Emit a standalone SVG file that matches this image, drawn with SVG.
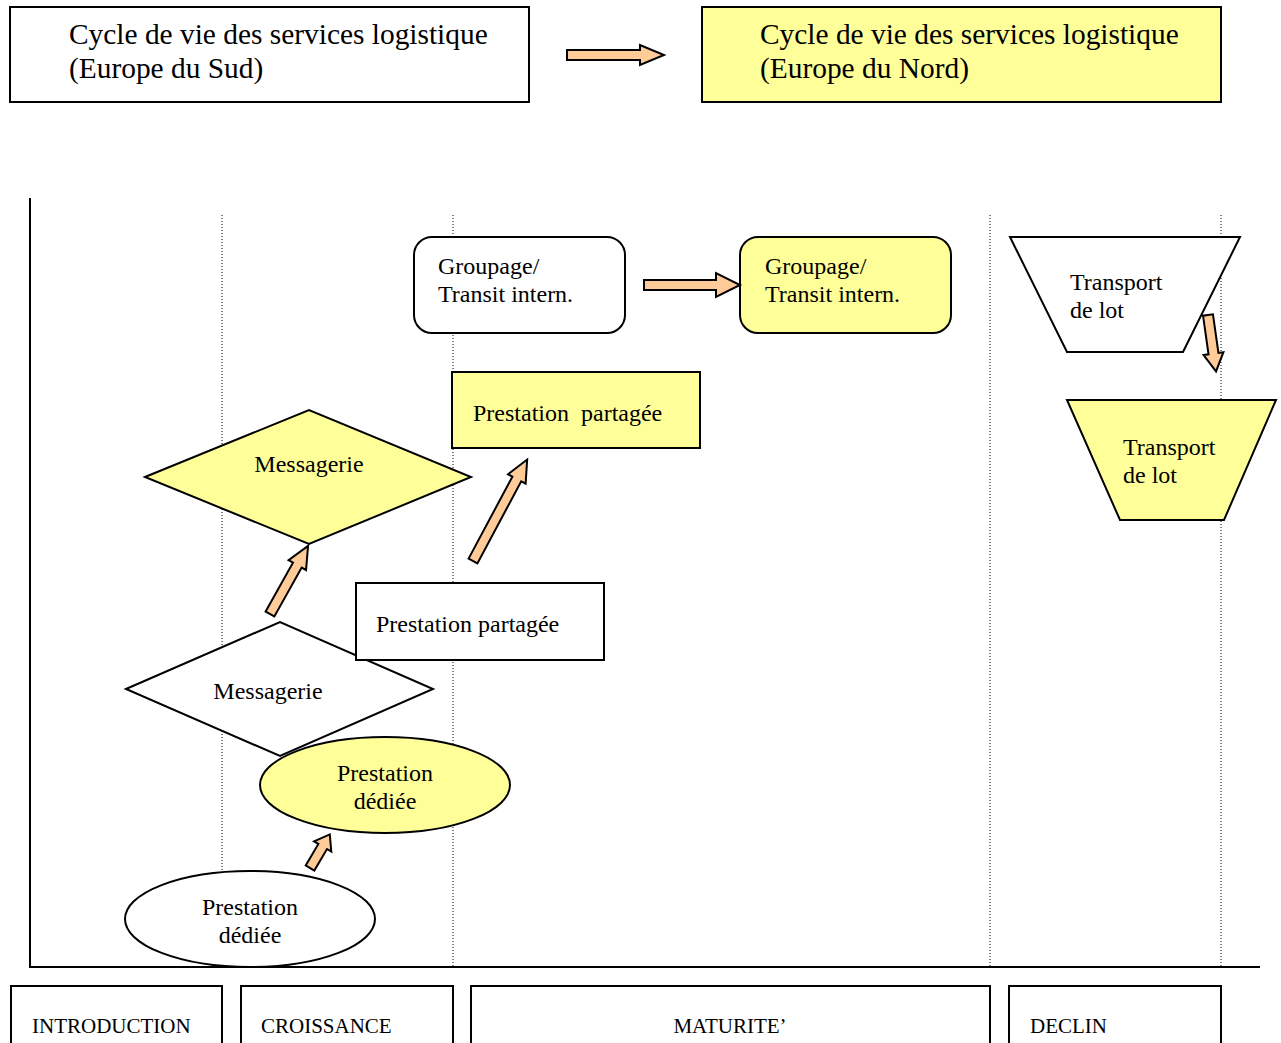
<svg xmlns="http://www.w3.org/2000/svg" width="1281" height="1043" viewBox="0 0 1281 1043">
<style>
text{font-family:"Liberation Serif","Times New Roman",serif;fill:#000}
.n{stroke:#000;stroke-width:2}
.w{fill:#fff}
.y{fill:#ffff99}
.t{font-size:29.4px}
.s{font-size:24px}
.p{font-size:21px}
.dot{stroke:#000;stroke-width:1;stroke-dasharray:1 2;fill:none}
.ar{fill:#ffcc99;stroke:#000;stroke-width:2;stroke-linejoin:miter}
</style>
<rect width="1281" height="1043" fill="#fff"/>
<g id="grid">
<line class="dot" x1="222" y1="215" x2="222" y2="967"/>
<line class="dot" x1="453" y1="215" x2="453" y2="967"/>
<line class="dot" x1="990" y1="215" x2="990" y2="967"/>
<line class="dot" x1="1221" y1="215" x2="1221" y2="967"/>
<line x1="30" y1="198" x2="30" y2="968" stroke="#000" stroke-width="2"/>
<line x1="29" y1="967" x2="1260" y2="967" stroke="#000" stroke-width="2"/>
</g>
<g id="title-sud"><rect class="n w" x="10" y="7" width="519" height="95"/>
<text class="t" x="69" y="44">Cycle de vie des services logistique</text><text class="t" x="69" y="78">(Europe du Sud)</text></g>
<g id="title-nord"><rect class="n y" x="702" y="7" width="519" height="95"/>
<text class="t" x="760" y="44">Cycle de vie des services logistique</text><text class="t" x="760" y="78">(Europe du Nord)</text></g>
<g id="groupage-sud"><rect class="n w" x="414" y="237" width="211" height="96" rx="18"/>
<text class="s" x="438" y="274">Groupage/</text><text class="s" x="438" y="302">Transit intern.</text></g>
<g id="groupage-nord"><rect class="n y" x="740" y="237" width="211" height="96" rx="18"/>
<text class="s" x="765" y="274">Groupage/</text><text class="s" x="765" y="302">Transit intern.</text></g>
<g id="transport-sud"><polygon class="n w" points="1010,237 1240,237 1183,352 1067,352"/>
<text class="s" x="1070" y="290">Transport</text><text class="s" x="1070" y="318">de lot</text></g>
<g id="transport-nord"><polygon class="n y" points="1067,400 1276,400 1224,520 1120,520"/>
<text class="s" x="1123" y="455">Transport</text><text class="s" x="1123" y="483">de lot</text></g>
<g id="partagee-nord"><rect class="n y" x="452" y="372" width="248" height="76"/>
<text class="s" x="473" y="421" xml:space="preserve">Prestation  partagée</text></g>
<g id="messagerie-nord"><polygon class="n y" points="145,477 309,410 471,477 309,544"/>
<text class="s" x="309" y="472" text-anchor="middle">Messagerie</text></g>
<g id="messagerie-sud"><polygon class="n w" points="126,689 280,622 433,689 280,756"/>
<text class="s" x="268" y="699" text-anchor="middle">Messagerie</text></g>
<g id="partagee-sud"><rect class="n w" x="356" y="583" width="248" height="77"/>
<text class="s" x="376" y="632">Prestation partagée</text></g>
<g id="dediee-nord"><ellipse class="n y" cx="385" cy="785" rx="125" ry="48"/>
<text class="s" x="385" y="781" text-anchor="middle">Prestation</text><text class="s" x="385" y="809" text-anchor="middle">dédiée</text></g>
<g id="dediee-sud"><ellipse class="n w" cx="250" cy="919" rx="125" ry="48"/>
<text class="s" x="250" y="915" text-anchor="middle">Prestation</text><text class="s" x="250" y="943" text-anchor="middle">dédiée</text></g>
<g id="connectors">
<polygon class="ar" transform="translate(567,55)" points="0,-5 73,-5 73,-10 97,0 73,10 73,5 0,5"/>
<polygon class="ar" transform="translate(644,285)" points="0,-5 72,-5 72,-12 96,0 72,12 72,5 0,5"/>
<polygon class="ar" transform="translate(1208,315) rotate(81.9)" points="0,-5 39,-5 39,-10 57,0 39,10 39,5 0,5"/>
<polygon class="ar" transform="translate(270,614) rotate(-60.8)" points="0,-5 56,-5 56,-10 78,0 56,10 56,5 0,5"/>
<polygon class="ar" transform="translate(473,561) rotate(-61.9)" points="0,-5 93,-5 93,-10 115,0 93,10 93,5 0,5"/>
<polygon class="ar" transform="translate(310,868) rotate(-59.5)" points="0,-5 25,-5 25,-10 39,0 25,10 25,5 0,5"/>
</g>
<g id="phase-introduction"><rect class="n w" x="11" y="986" width="211" height="70"/><text class="p" x="32" y="1033">INTRODUCTION</text></g>
<g id="phase-croissance"><rect class="n w" x="241" y="986" width="212" height="70"/><text class="p" x="261" y="1033">CROISSANCE</text></g>
<g id="phase-maturite"><rect class="n w" x="471" y="986" width="519" height="70"/><text class="p" x="730" y="1033" text-anchor="middle">MATURITE’</text></g>
<g id="phase-declin"><rect class="n w" x="1009" y="986" width="212" height="70"/><text class="p" x="1030" y="1033">DECLIN</text></g>
</svg>
